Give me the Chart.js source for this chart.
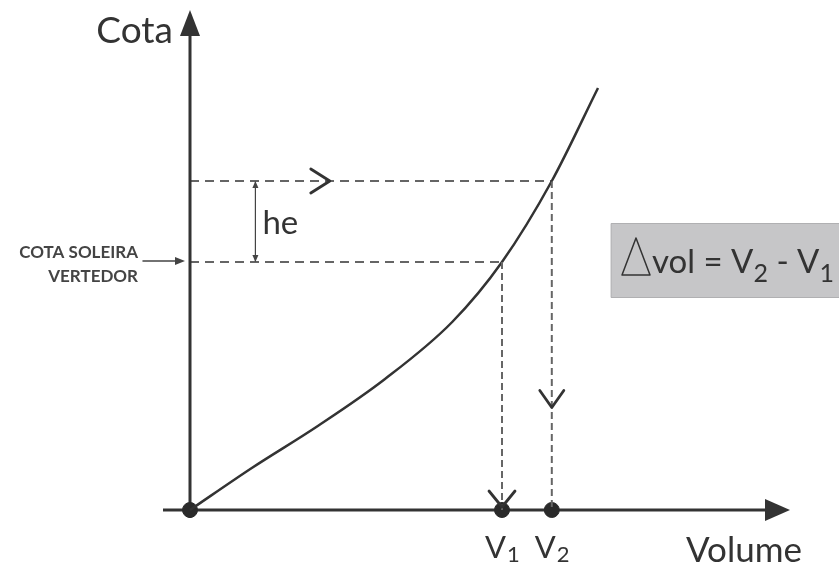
<!DOCTYPE html>
<html><head><meta charset="utf-8">
<script src="https://cdn.jsdelivr.net/npm/chart.js@4.4.1/dist/chart.umd.min.js"></script>
<style>html,body{margin:0;padding:0;background:#fff;}#wrap{width:839px;height:565px;}</style>
</head><body><div id="wrap"><canvas id="c" width="839" height="565"></canvas></div>
<script>
// Curve cota x volume (arbitrary units 0..100)
const volume = [0, 10.3, 21.3, 32.5, 43.7, 52.0, 60.3, 68.0];
const cota   = [0, 8.4, 16.8, 26.2, 37.6, 49.6, 65.8, 84.4];
const V1 = 52.0, V2 = 60.3;
const cotaSoleira = 49.6, cotaMax = 65.8;
const markerVolumes = [0, V1, V2];
const markerLabels = ['', '1', '2'];
const axisTitles = {x: 'Volume', y: 'Cota'};

const curveData = volume.map((v, i) => ({x: v, y: cota[i]}));
const INK = '#333';

const dash = (pts, color, w, d) => ({data: pts, showLine: true, borderColor: color, borderWidth: w, borderDash: d, pointRadius: 0, clip: false});

const annot = {
  id: 'annot',
  beforeDatasetsDraw(chart) {
    const {ctx, scales: {x, y}} = chart;
    ctx.save();
    ctx.strokeStyle = INK; ctx.fillStyle = INK; ctx.lineWidth = 3;
    const x0 = x.getPixelForValue(0), y0 = y.getPixelForValue(0);
    const yTop = y.getPixelForValue(100), xEnd = x.getPixelForValue(100);
    ctx.beginPath(); ctx.moveTo(x0, y0 + 8); ctx.lineTo(x0, yTop + 20); ctx.stroke();
    ctx.beginPath(); ctx.moveTo(x0, yTop); ctx.lineTo(x0 - 10, yTop + 26); ctx.lineTo(x0 + 10, yTop + 26); ctx.closePath(); ctx.fill();
    ctx.beginPath(); ctx.moveTo(x0 - 27, y0); ctx.lineTo(xEnd - 20, y0); ctx.stroke();
    ctx.beginPath(); ctx.moveTo(xEnd, y0); ctx.lineTo(xEnd - 25, y0 - 11); ctx.lineTo(xEnd - 25, y0 + 11); ctx.closePath(); ctx.fill();
    ctx.restore();
  },
  afterDraw(chart) {
    const {ctx, scales: {x, y}} = chart;
    const x0 = x.getPixelForValue(0), y0 = y.getPixelForValue(0);
    const ys = y.getPixelForValue(cotaSoleira), ym = y.getPixelForValue(cotaMax);
    const xv1 = x.getPixelForValue(V1), xv2 = x.getPixelForValue(V2);
    ctx.save();
    ctx.strokeStyle = INK; ctx.fillStyle = INK; ctx.lineWidth = 2.8; ctx.lineCap = 'round'; ctx.lineJoin = 'round';
    const ax = x.getPixelForValue(23.3);
    ctx.beginPath(); ctx.moveTo(ax - 19, ym - 12); ctx.lineTo(ax, ym); ctx.lineTo(ax - 19, ym + 12); ctx.stroke();
    const ay = y.getPixelForValue(20.5);
    ctx.beginPath(); ctx.moveTo(xv2 - 12, ay - 17); ctx.lineTo(xv2, ay); ctx.lineTo(xv2 + 12, ay - 17); ctx.stroke();
    ctx.beginPath(); ctx.moveTo(xv1 - 13, y0 - 19); ctx.lineTo(xv1, y0 - 3); ctx.lineTo(xv1 + 13, y0 - 19); ctx.stroke();
    // he dimension
    const hx = x.getPixelForValue(10.9);
    ctx.lineWidth = 1.2; ctx.strokeStyle = '#444';
    ctx.beginPath(); ctx.moveTo(hx, ym + 1); ctx.lineTo(hx, ys - 1); ctx.stroke();
    ctx.fillStyle = '#444';
    ctx.beginPath(); ctx.moveTo(hx, ym); ctx.lineTo(hx - 3, ym + 7); ctx.lineTo(hx + 3, ym + 7); ctx.closePath(); ctx.fill();
    ctx.beginPath(); ctx.moveTo(hx, ys); ctx.lineTo(hx - 3, ys - 7); ctx.lineTo(hx + 3, ys - 7); ctx.closePath(); ctx.fill();
    ctx.fillStyle = INK;
    ctx.font = '33px Lato'; ctx.textBaseline = 'alphabetic'; ctx.textAlign = 'left';
    ctx.fillText('he', hx + 7, (ym + ys) / 2 + 12);
    // COTA SOLEIRA label + arrow
    ctx.fillStyle = '#444'; ctx.font = 'bold 17px Lato'; ctx.textAlign = 'right';
    ctx.fillText('COTA SOLEIRA', 138, ys - 4);
    ctx.fillText('VERTEDOR', 138, ys + 20);
    ctx.lineWidth = 1.5; ctx.strokeStyle = '#444';
    ctx.beginPath(); ctx.moveTo(143, ys - 1); ctx.lineTo(178, ys - 1); ctx.stroke();
    ctx.beginPath(); ctx.moveTo(185, ys - 1); ctx.lineTo(175, ys - 5); ctx.lineTo(175, ys + 3); ctx.closePath(); ctx.fill();
    // axis titles
    ctx.fillStyle = INK; ctx.font = '37px Lato'; ctx.textAlign = 'right';
    ctx.fillText(axisTitles.y, x0 - 17, 43);
    ctx.font = '35px Lato'; ctx.textAlign = 'right';
    ctx.fillText(axisTitles.x, 802, 562);
    // V1, V2 labels
    markerVolumes.forEach((v, i) => {
      if (!markerLabels[i]) return;
      const px = x.getPixelForValue(v);
      ctx.font = '31px Lato'; ctx.textAlign = 'left';
      const w = ctx.measureText('V').width;
      ctx.fillText('V', px - 17, 558);
      ctx.font = '22px Lato';
      ctx.fillText(markerLabels[i], px - 17 + w + 1, 562);
    });
    // formula box
    ctx.fillStyle = '#c6c6c8'; ctx.fillRect(611, 223, 228, 75);
    ctx.strokeStyle = '#b0b0b2'; ctx.lineWidth = 1; ctx.strokeRect(611.5, 223.5, 230, 74);
    ctx.strokeStyle = INK; ctx.lineWidth = 1.5;
    ctx.beginPath(); ctx.moveTo(636, 238); ctx.lineTo(622, 275); ctx.lineTo(650, 275); ctx.closePath(); ctx.stroke();
    ctx.fillStyle = INK; ctx.textAlign = 'left';
    let cx = 652;
    const seg = (t, f, dy) => { ctx.font = f; ctx.fillText(t, cx, 273 + dy); cx += ctx.measureText(t).width; };
    seg('vol = V', '33px Lato', 0);
    seg('2', '25px Lato', 9);
    seg(' - V', '33px Lato', 0);
    seg('1', '25px Lato', 9);
    ctx.restore();
  }
};

new Chart(document.getElementById('c'), {
  type: 'scatter',
  data: {
    datasets: [
      dash([{x: 0, y: cotaMax}, {x: V2, y: cotaMax}], '#333', 1.5, [9, 6]),
      dash([{x: 0, y: cotaSoleira}, {x: V1, y: cotaSoleira}], '#333', 1.5, [9, 6]),
      dash([{x: V1, y: cotaSoleira}, {x: V1, y: 0}], '#666', 2, [7, 4]),
      dash([{x: V2, y: cotaMax}, {x: V2, y: 0}], '#666', 2, [7, 4]),
      {data: curveData, showLine: true, borderColor: INK, borderWidth: 2.5, pointRadius: 0, cubicInterpolationMode: 'monotone', clip: false},
      {data: markerVolumes.map(v => ({x: v, y: 0})), pointRadius: 7.5, pointBackgroundColor: '#2a2a2a', pointBorderColor: '#2a2a2a', showLine: false, clip: false}
    ]
  },
  options: {
    responsive: false, animation: false, devicePixelRatio: 1,
    layout: {padding: {left: 190, right: 49, top: 10, bottom: 55}},
    plugins: {legend: {display: false}, tooltip: {enabled: false}},
    scales: {
      x: {type: 'linear', min: 0, max: 100, display: false},
      y: {type: 'linear', min: 0, max: 100, display: false}
    }
  },
  plugins: [annot]
});
</script></body></html>
